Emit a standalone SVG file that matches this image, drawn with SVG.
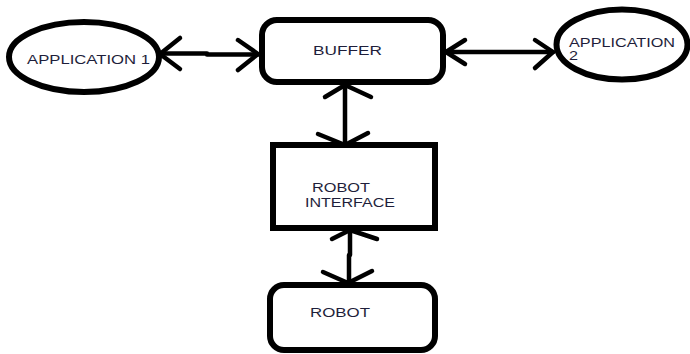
<svg xmlns="http://www.w3.org/2000/svg" width="690" height="354" viewBox="0 0 690 354">
  <style>
    .shape { fill: #fff; stroke: #000; stroke-width: 6; }
    .wire { fill: none; stroke: #000; stroke-width: 4.5; stroke-linecap: round; stroke-linejoin: round; }
    .label { font-family: "Liberation Sans", Arial, sans-serif; font-size: 12.5px; fill: #1e1e3a; }
  </style>
  <rect width="690" height="354" fill="#fff"/>

  <g id="connectors">
    <!-- APPLICATION 1 <-> BUFFER -->
    <path class="wire" d="M160,53.5 H207 M207,54.5 H258"/>
    <path class="wire" d="M180,38 L160,54 L180,69"/>
    <path class="wire" d="M238,40 L258,54 L238,70"/>
    <!-- BUFFER <-> APPLICATION 2 -->
    <path class="wire" d="M445,52 H553"/>
    <path class="wire" d="M465,40 L446,52 L465,64"/>
    <path class="wire" d="M535,40 L553,52 L535,68"/>
    <!-- BUFFER <-> ROBOT INTERFACE -->
    <path class="wire" d="M345,85 V145"/>
    <path class="wire" d="M325,97 L345,85 L371,97"/>
    <path class="wire" d="M318,134 L345,145 L368,133"/>
    <!-- ROBOT INTERFACE <-> ROBOT -->
    <path class="wire" d="M350,230 V255 M349,255 V283"/>
    <path class="wire" d="M332,239 L350,230 L377,239"/>
    <path class="wire" d="M323,272 L348,283 L372,271"/>
  </g>

  <g id="app1">
    <ellipse class="shape" cx="84" cy="57" rx="75" ry="35"/>
    <text class="label" x="27" y="64" textLength="123" lengthAdjust="spacingAndGlyphs">APPLICATION 1</text>
  </g>

  <g id="buffer">
    <rect class="shape" x="262" y="20" width="181" height="62" rx="15"/>
    <text class="label" x="313" y="55" textLength="69" lengthAdjust="spacingAndGlyphs">BUFFER</text>
  </g>

  <g id="app2">
    <ellipse class="shape" cx="622" cy="44.5" rx="65.5" ry="35"/>
    <text class="label" x="569" y="47" textLength="106" lengthAdjust="spacingAndGlyphs">APPLICATION</text>
    <text class="label" x="569" y="60" textLength="9" lengthAdjust="spacingAndGlyphs">2</text>
  </g>

  <g id="robot-interface">
    <rect class="shape" x="273" y="145" width="162" height="83"/>
    <text class="label" x="312" y="192" textLength="58" lengthAdjust="spacingAndGlyphs">ROBOT</text>
    <text class="label" x="305" y="207" textLength="90" lengthAdjust="spacingAndGlyphs">INTERFACE</text>
  </g>

  <g id="robot">
    <rect class="shape" x="270" y="285" width="165" height="65" rx="14"/>
    <text class="label" x="310" y="317" textLength="60" lengthAdjust="spacingAndGlyphs">ROBOT</text>
  </g>
</svg>
